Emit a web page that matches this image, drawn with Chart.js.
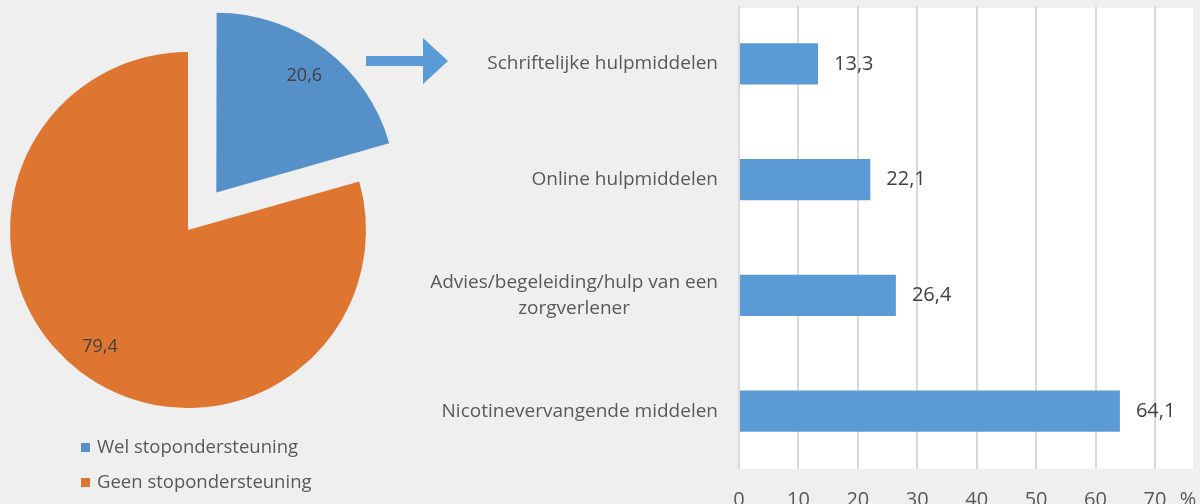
<!DOCTYPE html>
<html>
<head>
<meta charset="utf-8">
<script src="https://cdn.jsdelivr.net/npm/chart.js@4/dist/chart.umd.min.js"></script>
<style>
  html, body { margin: 0; padding: 0; }
  body { width: 1200px; height: 504px; overflow: hidden; position: relative; background: #efefef; font-family: 'Open Sans', sans-serif; }
  /* chart.js shrinks the pie by the full offset but only moves the slice by offset/4 */
  #pieBox { position: absolute; left: -84px; top: -42px; width: 544px; height: 544px; }
  #barBox { position: absolute; left: 400px; top: 0; width: 800px; height: 531px; }
  #arrow { position: absolute; left: 0; top: 0; }
  .legend { position: absolute; left: 81px; top: 433px; color: #595959; font-size: 18.5px; }
  .legend div { height: 35px; line-height: 26px; white-space: nowrap; }
  .legend span { display: inline-block; width: 9px; height: 9px; margin-right: 7px; vertical-align: 1px; }
</style>
</head>
<body>
<svg id="arrow" width="460" height="100">
  <polygon points="366,56 423,56 423,38 448,61 423,84 423,66 366,66" fill="#5b9bd5"></polygon>
</svg>
<div id="pieBox"><canvas id="pieChart"></canvas></div>
<div class="legend" id="pieLegend"></div>
<div id="barBox"><canvas id="barChart"></canvas></div>

<script>
var pieLabels = ['Wel stopondersteuning', 'Geen stopondersteuning'];
var pieValues = [20.6, 79.4];
var pieColors = ['#5590c8', '#de7530'];
var pieOffsets = [188, 0];

var barLabels = [
  'Schriftelijke hulpmiddelen',
  'Online hulpmiddelen',
  ['Advies/begeleiding/hulp van een', 'zorgverlener'],
  'Nicotinevervangende middelen'
];
var barValues = [13.3, 22.1, 26.4, 64.1];
var xTicks = [0, 10, 20, 30, 40, 50, 60, 70];
var xUnit = '%';

function fmt(v) {
  return v.toFixed(1).replace('.', ',');
}

// legend for the pie, plain html
var legendBox = document.getElementById('pieLegend');
pieLabels.forEach(function (name, i) {
  var row = document.createElement('div');
  var sw = document.createElement('span');
  sw.style.background = pieColors[i];
  row.appendChild(sw);
  row.appendChild(document.createTextNode(name));
  legendBox.appendChild(row);
});

var pieValueLabels = {
  id: 'pieValueLabels',
  afterDatasetsDraw: function (chart) {
    var ctx = chart.ctx;
    var meta = chart.getDatasetMeta(0);
    ctx.save();
    ctx.font = '18px "Open Sans"';
    ctx.fillStyle = '#404040';
    ctx.textAlign = 'center';
    ctx.textBaseline = 'middle';
    meta.data.forEach(function (arc, i) {
      var p = arc.getProps(['x', 'y', 'startAngle', 'endAngle', 'outerRadius'], true);
      var mid = (p.startAngle + p.endAngle) / 2;
      var d = pieOffsets[i] / 4 + p.outerRadius * 0.82;
      ctx.fillText(fmt(pieValues[i]), p.x + Math.cos(mid) * d, p.y + Math.sin(mid) * d);
    });
    ctx.restore();
  }
};

new Chart(document.getElementById('pieChart'), {
  type: 'pie',
  data: {
    labels: pieLabels,
    datasets: [{
      data: pieValues,
      backgroundColor: pieColors,
      offset: pieOffsets,
      borderWidth: 0,
      hoverOffset: 0
    }]
  },
  options: {
    responsive: true,
    maintainAspectRatio: false,
    animation: false,
    layout: { padding: 0 },
    plugins: {
      legend: { display: false },
      tooltip: { enabled: false }
    }
  },
  plugins: [pieValueLabels]
});

var plotBackground = {
  id: 'plotBackground',
  beforeDraw: function (chart) {
    var a = chart.chartArea;
    chart.ctx.save();
    chart.ctx.fillStyle = '#ffffff';
    chart.ctx.fillRect(a.left, a.top + 2, a.right - a.left, a.bottom - a.top - 2);
    chart.ctx.restore();
  }
};

var barTexts = {
  id: 'barTexts',
  afterDraw: function (chart) {
    var ctx = chart.ctx;
    var a = chart.chartArea;
    var yScale = chart.scales.y;
    var xScale = chart.scales.x;
    ctx.save();

    // category labels, right aligned, wrapped lines centred on each other
    ctx.font = '19px "Open Sans"';
    ctx.fillStyle = '#595959';
    ctx.textBaseline = 'middle';
    ctx.textAlign = 'center';
    var lh = 26;
    barLabels.forEach(function (lab, i) {
      var lines = Array.isArray(lab) ? lab : [lab];
      var w = 0;
      lines.forEach(function (l) { w = Math.max(w, ctx.measureText(l).width); });
      var cx = a.left - 21 - w / 2;
      var y0 = yScale.getPixelForValue(i) - (lines.length - 1) * lh / 2;
      lines.forEach(function (l, j) {
        ctx.fillText(l, cx, y0 + j * lh);
      });
    });

    // value labels next to the bars
    ctx.font = '20px "Open Sans"';
    ctx.fillStyle = '#404040';
    ctx.textAlign = 'left';
    chart.getDatasetMeta(0).data.forEach(function (bar, i) {
      ctx.fillText(fmt(barValues[i]), bar.x + 16, bar.y);
    });

    // unit after the last tick, on the same line as the tick labels
    var items = xScale.getLabelItems();
    var last = items[items.length - 1];
    ctx.font = '20px "Open Sans"';
    ctx.fillStyle = '#595959';
    ctx.textAlign = 'center';
    ctx.textBaseline = last.options.textBaseline;
    ctx.fillText(xUnit, a.right - 5, last.options.translation[1] + last.textOffset);
    ctx.restore();
  }
};

new Chart(document.getElementById('barChart'), {
  type: 'bar',
  data: {
    labels: barLabels,
    datasets: [{
      data: barValues,
      backgroundColor: '#5b9bd5',
      borderWidth: 0,
      categoryPercentage: 1,
      barPercentage: 0.357
    }]
  },
  options: {
    indexAxis: 'y',
    responsive: true,
    maintainAspectRatio: false,
    animation: false,
    layout: { padding: { left: 0, right: 7, top: 6, bottom: 0 } },
    plugins: {
      legend: { display: false },
      tooltip: { enabled: false }
    },
    scales: {
      x: {
        min: 0,
        max: 76.4,
        grid: { color: '#d9d9d9', lineWidth: 2, drawTicks: false },
        border: { display: false },
        afterBuildTicks: function (scale) {
          scale.ticks = xTicks.map(function (v) { return { value: v }; });
        },
        ticks: {
          padding: 19,
          color: '#595959',
          font: { family: 'Open Sans', size: 20 },
          maxRotation: 0,
          autoSkip: false
        }
      },
      y: {
        grid: { display: false },
        border: { display: false },
        ticks: { display: false },
        afterFit: function (scale) {
          scale.width = 339;
        }
      }
    }
  },
  plugins: [plotBackground, barTexts]
});
</script>
</body>
</html>
